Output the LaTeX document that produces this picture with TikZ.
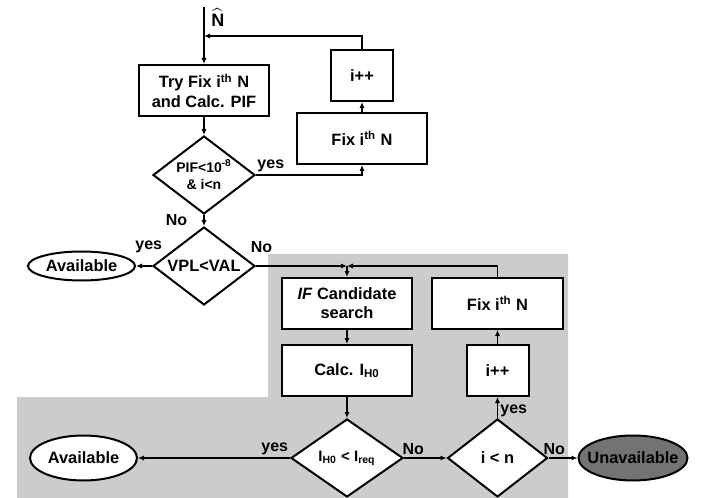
\documentclass[tikz,border=0pt]{standalone}
\usepackage{fontspec}
\setmainfont{Liberation Sans}
\usepackage{amsmath}
\usepackage{tikz}
\usetikzlibrary{arrows.meta, positioning, calc, shapes.geometric, backgrounds}
\definecolor{regiongray}{RGB}{204, 204, 204}
\definecolor{failgray}{RGB}{115, 115, 115}

\begin{document}
\begin{tikzpicture}[
    node distance=8.5pt and 10pt,
    base/.style={rectangle, draw=black, line width=1pt, fill=white, align=center, font=\fontsize{8.2}{9.6}\selectfont\bfseries, inner sep=2pt},
    process/.style={base, minimum width=65pt, minimum height=25.5pt},
    counter/.style={base, minimum width=31pt, minimum height=25.5pt},
    decision/.style={base, diamond, aspect=1.3, inner sep=0pt, minimum width=51pt, minimum height=39pt},
    terminal/.style={base, ellipse, inner sep=0pt, minimum width=53.5pt, minimum height=22.5pt},
    line/.style={draw=black, line width=0.9pt, -{Latex[length=3pt, width=2.6pt]}},
    branch/.style={font=\fontsize{8}{9}\selectfont\bfseries, inner sep=1pt}
]

\useasboundingbox (-102pt,45.25pt) rectangle (256pt,-203.25pt);

\node[process] (tryfix) at (0,0) {Try Fix i\textsuperscript{th} N\\and Calc. PIF};
\node[decision, below=9pt of tryfix, font=\fontsize{7}{8.5}\selectfont\bfseries] (pifchk) {PIF<10\textsuperscript{-8}\\\& i<n};
\node[decision, below=5.5pt of pifchk] (vplchk) {VPL<VAL};
\node[terminal, left=8pt of vplchk, minimum height=14.5pt] (availa) {Available};

\node[process, above right=5pt and 20pt of pifchk.east] (fixa) {Fix i\textsuperscript{th} N};
\node[counter, above=5pt of fixa] (inca) {i++};

\coordinate (inpt) at ([yshift=28.5pt]tryfix.north);
\coordinate (joina) at ([yshift=14pt]tryfix.north);
\node[anchor=north west, inner sep=0pt, font=\fontsize{9}{9}\selectfont] (nhat) at ([xshift=3.5pt, yshift=-0.5pt]inpt) {$\widehat{\mathbf{N}}$};

\node[process, below right=5.5pt and 12.5pt of vplchk.east] (ifsearch) {\textit{IF} Candidate\\search};
\node[process, below=7pt of ifsearch] (calcih) {Calc. I\textsubscript{H0}};
\node[decision, below=10.5pt of calcih, minimum width=56pt, font=\fontsize{7.5}{9}\selectfont\bfseries] (ihchk) {I\textsubscript{H0} < I\textsubscript{req}};
\node[process, right=9pt of ifsearch, minimum width=65.5pt] (fixb) {Fix i\textsuperscript{th} N};
\node[counter, below=7pt of fixb] (incb) {i++};
\node[decision, below=10.5pt of incb, minimum width=50pt] (ichk) {i < n};
\node[terminal, left=76pt of ihchk] (availb) {Available};
\node[terminal, right=14.5pt of ichk, minimum width=54.5pt, fill=failgray, inner xsep=-8pt] (unavail) {Unavailable};

\coordinate (joinb) at (ifsearch.north |- vplchk.east);

\draw[line] (inpt) -- (tryfix.north);
\draw[line] (inca.north) |- (joina);
\draw[line] (tryfix) -- (pifchk);
\draw[line] (pifchk.east) -| node[branch, pos=0.07, above] {yes} (fixa.south);
\draw[line] (fixa) -- (inca);
\draw[line] (pifchk) -- node[branch, left=7pt] {No} (vplchk);
\draw[line] (vplchk) -- node[branch, pos=0.2, above=5pt] {yes} (availa);
\draw[line] (vplchk.east) -- node[branch, pos=0.06, above=5pt] {No} (joinb);
\draw[line] (fixb.north) |- (joinb);
\draw[line] (joinb) -- (ifsearch.north);
\draw[line] (ifsearch) -- (calcih);
\draw[line] (calcih) -- (ihchk);
\draw[line] (ihchk) -- node[branch, pos=0.1, above] {yes} (availb);
\draw[line] (ihchk) -- node[branch, pos=0.22, above] {No} (ichk);
\draw[line] (ichk) -- node[branch, pos=0.35, right] {yes} (incb);
\draw[line] (incb) -- (fixb);
\draw[line] (ichk) -- node[branch, pos=0.2, above] {No} (unavail);

\begin{pgfonlayer}{background}
\coordinate (ga) at ($(ifsearch.north west)+(-6.5pt,11.5pt)$);
\coordinate (gb) at ($(fixb.east |- ga)+(2pt,0)$);
\coordinate (gc) at ($(gb |- ihchk.south)+(0,-1pt)$);
\coordinate (gd) at ($(availb.west |- gc)+(-6pt,0)$);
\fill[regiongray] (ga) -- (gb) -- (gc) -- (gd) |- (calcih.south) -- (ga |- calcih.south) -- cycle;
\end{pgfonlayer}

\end{tikzpicture}
\end{document}
